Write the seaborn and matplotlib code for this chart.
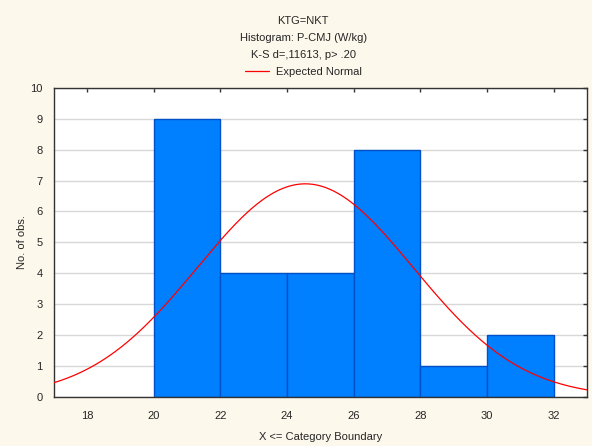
import numpy as np
import matplotlib
matplotlib.use("Agg")
import matplotlib.pyplot as plt
import seaborn as sns

# histogram: category boundaries and counts
BIN_EDGES = [20, 22, 24, 26, 28, 30, 32]
COUNTS = [9, 4, 4, 8, 1, 2]
BIN_MIDS = [21, 23, 25, 27, 29, 31]
X_TICKS = [18, 20, 22, 24, 26, 28, 30, 32]
Y_TICKS = list(range(0, 11))

# expected normal parameters (estimated from the curve)
MU = 24.55
SIGMA = 3.24

TITLE_LINES = ["KTG=NKT", "Histogram: P-CMJ (W/kg)", "K-S d=,11613, p> .20"]

BG = "#fdf8ec"

sns.set_theme(style="white")
plt.rcParams["font.family"] = ["Liberation Sans", "DejaVu Sans"]

fig = plt.figure(figsize=(5.92, 4.46), dpi=100, facecolor=BG)
ax = fig.add_axes([0.0904, 0.110, 0.9012, 0.693])
ax.set_facecolor("white")

sns.histplot(x=BIN_MIDS, weights=COUNTS, bins=BIN_EDGES, ax=ax,
             color="#0080ff", alpha=1, edgecolor="#0050c8", linewidth=1, zorder=2)

n = sum(COUNTS)
width = BIN_EDGES[1] - BIN_EDGES[0]
xs = np.linspace(17, 33, 300)
ys = n * width * np.exp(-0.5 * ((xs - MU) / SIGMA) ** 2) / (SIGMA * np.sqrt(2 * np.pi))
sns.lineplot(x=xs, y=ys, ax=ax, color="#ff0000", linewidth=0.9, label="Expected Normal", zorder=3)

ax.set_xlim(17, 33)
ax.set_ylim(0, 10)
ax.set_xticks(X_TICKS)
ax.set_yticks(Y_TICKS)
ax.yaxis.grid(True, color="#d8d8d8", linewidth=1, zorder=0)
ax.set_axisbelow(True)
ax.tick_params(direction="in", length=3, width=1, color="#333333",
               top=True, right=True, labelsize=8, pad=10)
ax.tick_params(axis="y", pad=8)
for s in ax.spines.values():
    s.set_color("#333333")
    s.set_linewidth(1)

ax.set_xlabel("X <= Category Boundary", fontsize=8, labelpad=8)
ax.set_ylabel("No. of obs.", fontsize=8, labelpad=2)

for i, line in enumerate(TITLE_LINES):
    fig.text(0.512, 1 - (21 + 17 * i) / 446, line, ha="center", va="center", fontsize=8)

ax.legend(loc="center", bbox_to_anchor=(0.512, 1 - 72 / 446), bbox_transform=fig.transFigure,
          frameon=False, fontsize=8, handlelength=2.2, handletextpad=0.6)

fig.savefig("out.png", dpi=100, facecolor=BG)
